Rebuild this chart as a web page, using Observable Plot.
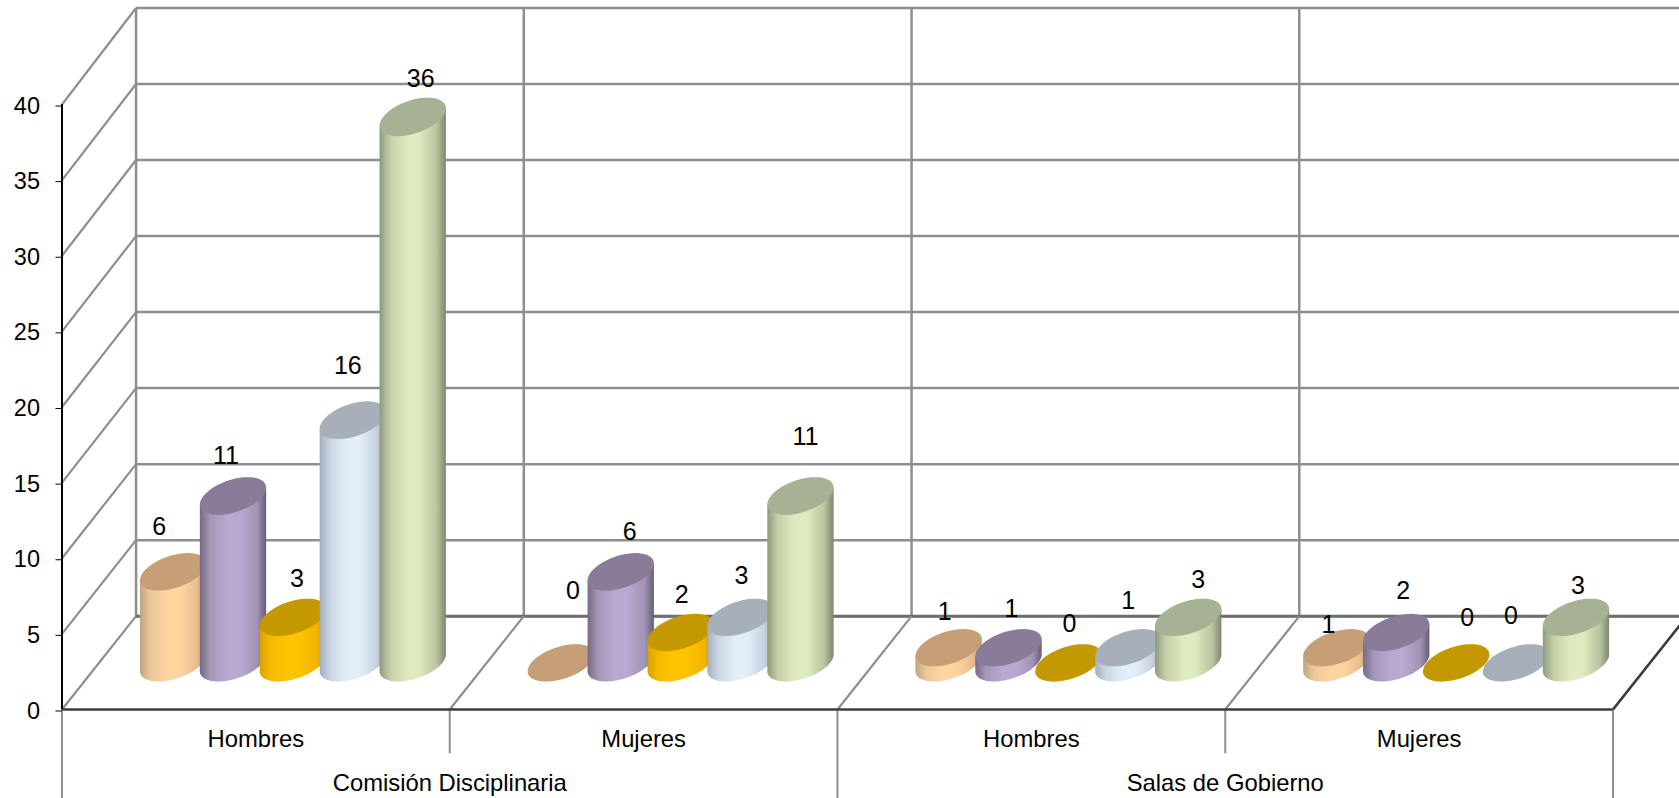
<!DOCTYPE html>
<html lang="es">
<head>
<meta charset="utf-8">
<title>Comisión Disciplinaria y Salas de Gobierno</title>
<script src="https://cdn.jsdelivr.net/npm/d3@7"></script>
<script src="https://cdn.jsdelivr.net/npm/@observablehq/plot@0.6"></script>
<style>
  html, body { margin: 0; padding: 0; background: #fff; overflow: hidden; }
  svg { display: block; }
</style>
</head>
<body>
<div id="chart"></div>
<script>
// ---- chart values ----
const groupLabels = ["Hombres", "Mujeres", "Hombres", "Mujeres"];
const sectionLabels = ["Comisión Disciplinaria", "Salas de Gobierno"];
const yTicks = [0, 5, 10, 15, 20, 25, 30, 35, 40];
const seriesPeach  = [6, 0, 1, 1];
const seriesPurple = [11, 6, 1, 2];
const seriesGold   = [3, 2, 0, 0];
const seriesBlue   = [16, 3, 1, 0];
const seriesGreen  = [36, 11, 3, 3];

// ---- styles ----
const seriesValues = [seriesPeach, seriesPurple, seriesGold, seriesBlue, seriesGreen];
const seriesStyle = [
  {id: "peach",  cap: "#C69F76", stops: ["#BFA582", "#EDC79A", "#FFD49F", "#FFD49F", "#E8BD8D", "#BD9A72"]},
  {id: "purple", cap: "#8A7B98", stops: ["#766A84", "#A597B8", "#B9A8D0", "#B9A8D0", "#A294B5", "#665C74"]},
  {id: "gold",   cap: "#C49800", stops: ["#D6A200", "#F5BA00", "#FFC300", "#FFC300", "#F0B400", "#C49000"]},
  {id: "blue",   cap: "#A7B0BA", stops: ["#A3AEBC", "#CBD6E4", "#E3EEFB", "#E3EEFB", "#C7D1DF", "#959DAA"]},
  {id: "green",  cap: "#A7B193", stops: ["#8F9A7C", "#C4CFA8", "#DEEABF", "#DEEABF", "#BAC4A0", "#7E8670"]}
];
const stopOffsets = [0, 0.16, 0.42, 0.6, 0.86, 1];
// label nudges in px from the centre of each cylinder's top, [dx, dy] by group then series
const labelNudges = [
  [[-14, -45], [-7, -40], [4, -38], [-5, -54], [8, -38]],
  [[12, -72], [9, -40], [1, -38], [1, -41], [5, -59]],
  [[-4, -36], [3, -39], [1, -39], [0, -47], [10, -37]],
  [[-8, -23], [7, -42], [11, -45], [-5, -47], [2, -31]]
];

// ---- oblique 3-D geometry, in scale units ----
const backX = 0.191;       // how far the back wall sits to the right (x units)
const backV = 6.17;        // how far the back wall sits upward (value units)
const backScale = 1.0053;  // the back wall is drawn very slightly taller
const spacing = 0.1545;    // distance between cylinders in a group
const radiusX = 0.0765;    // cylinder radius along x
const radiusZ = 0.2;       // cylinder radius along depth
const tierShort = -2.9;    // end of the short separators below the floor
const tierLong = -5.85;    // end of the long separators
const groupRow = -1.98;    // value level of the group labels
const sectionRow = -4.86;  // value level of the section labels

const project = (x, v, z) => ({x: x + z * backX, y: v * (1 + z * (backScale - 1)) + z * backV});
const ringPoint = (cx, v, t) => project(cx + radiusX * Math.cos(t), v, 0.5 + radiusZ * Math.sin(t));
const tangent = Math.atan2(radiusZ * backX, radiusX);
const steps = d3.range(0, 49);

const capPath = (cx, v) => steps.map(i => ringPoint(cx, v, (i / 48) * 2 * Math.PI));
const sidePath = (cx, v) => {
  const base = steps.map(i => ringPoint(cx, 0, tangent - (i / 48) * Math.PI));
  return [...base, ringPoint(cx, v, tangent - Math.PI), ringPoint(cx, v, tangent), base[0]];
};

const seg = (a, b) => ({x1: a.x, y1: a.y, x2: b.x, y2: b.y});
const linkOpts = {x1: "x1", y1: "y1", x2: "x2", y2: "y2"};

// ---- walls ----
const wallGrey = "#8e8e8e";
const backHoriz = yTicks.map(v => seg(project(0, v, 1), project(4, v, 1)));
const sideDiag = yTicks.map(v => seg(project(0, v, 0), project(0, v, 1)));
const backVert = [0, 1, 2, 3, 4].map(i => seg(project(i, 0, 1), project(i, 40, 1)));
const floorDiag = [1, 2, 3, 4].map(i => seg(project(i, 0, 0), project(i, 0, 1)));
const separators = [0, 1, 2, 3, 4].map(i => seg({x: i, y: 0}, {x: i, y: i % 2 ? tierShort : tierLong}));

// ---- gradients for the cylinder sides ----
const gradients = () => {
  const defs = d3.create("svg:defs");
  for (const s of seriesStyle) {
    const g = defs.append("linearGradient").attr("id", "body-" + s.id)
      .attr("x1", 0).attr("x2", 1).attr("y1", 0).attr("y2", 0);
    s.stops.forEach((c, k) => g.append("stop").attr("offset", stopOffsets[k]).attr("stop-color", c));
  }
  return defs.node();
};

// ---- cylinders and value labels ----
const cylinderMarks = [];
const labelMarks = [];
groupLabels.forEach((_, g) => {
  seriesValues.forEach((values, s) => {
    const v = values[g];
    const cx = g + 0.5 + (s - 2) * spacing;
    const style = seriesStyle[s];
    cylinderMarks.push(
      Plot.line(sidePath(cx, v), {x: "x", y: "y", fill: `url(#body-${style.id})`, stroke: "none"}),
      Plot.line(capPath(cx, v), {x: "x", y: "y", fill: style.cap, stroke: "none"})
    );
    const top = project(cx, v, 0.5);
    const [dx, dy] = labelNudges[g][s];
    labelMarks.push(Plot.text([{...top, text: String(v)}], {
      x: "x", y: "y", text: "text", dx, dy, fontSize: 25, fill: "#000"
    }));
  });
});

const chart = Plot.plot({
  width: 1679,
  height: 798,
  marginLeft: 61.5,
  marginRight: 66.5,
  marginTop: 104,
  marginBottom: 89,
  x: {domain: [0, 4], axis: null},
  y: {domain: [0, 40]},
  style: {fontFamily: "'Liberation Sans', Arial, sans-serif", fontSize: "23px", background: "#fff", color: "#000"},
  marks: [
    gradients,
    Plot.link(backHoriz, {...linkOpts, stroke: wallGrey, strokeWidth: 2.5}),
    Plot.link(sideDiag, {...linkOpts, stroke: wallGrey, strokeWidth: 2.2}),
    Plot.link(backVert, {...linkOpts, stroke: wallGrey, strokeWidth: 2.5}),
    Plot.link([backHoriz[0]], {...linkOpts, stroke: "#6e6e6e", strokeWidth: 3}),
    Plot.link(floorDiag, {...linkOpts, stroke: wallGrey, strokeWidth: 2.2}),
    Plot.link(separators, {...linkOpts, stroke: wallGrey, strokeWidth: 2}),
    ...cylinderMarks,
    Plot.ruleY([0], {x1: 0, x2: 4, stroke: "#3c3c3c", strokeWidth: 2.5}),
    Plot.link(floorDiag.slice(-1), {...linkOpts, stroke: "#3c3c3c", strokeWidth: 2.5}),
    Plot.ruleX([0], {y1: 0, y2: 40, stroke: "#000", strokeWidth: 2}),
    Plot.axisY(yTicks, {
      anchor: "left", label: null, tickSize: 6, tickPadding: 16, stroke: "#000",
      textStroke: "none", fontSize: 23.5, dy: 1.5, tickFormat: d => String(d)
    }),
    Plot.text(groupLabels, {x: (_, i) => i + 0.5, y: () => groupRow, text: d => d, fontSize: 23.8, fill: "#000"}),
    Plot.text(sectionLabels, {x: (_, i) => 2 * i + 1, y: () => sectionRow, text: d => d, fontSize: 23.8, fill: "#000"}),
    ...labelMarks
  ]
});
document.getElementById("chart").append(chart);
</script>
</body>
</html>
